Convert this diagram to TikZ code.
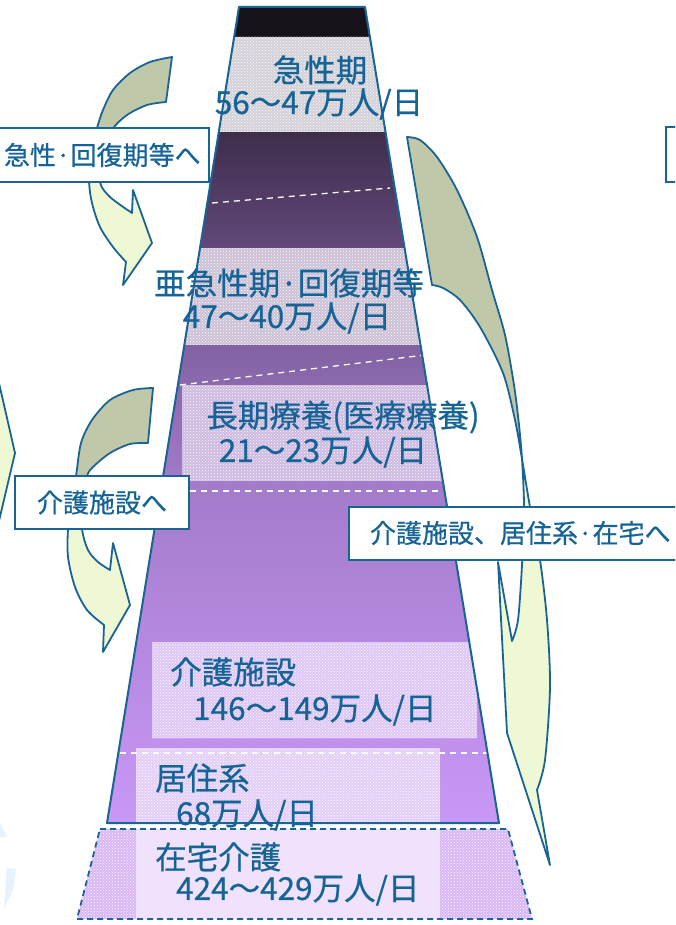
\documentclass[tikz,border=0pt]{standalone}
\usepackage{fontspec}
\setmainfont{Noto Sans CJK JP}[FakeBold=0.6]
\usetikzlibrary{patterns}
\definecolor{txt}{RGB}{22,100,150}
\definecolor{edge}{RGB}{26,100,148}
\definecolor{arrdark}{RGB}{192,200,170}
\definecolor{arrlight}{RGB}{238,248,212}
\definecolor{band0}{RGB}{22,18,26}
\definecolor{pat1}{RGB}{212,208,216}
\definecolor{dk1}{RGB}{62,46,76}
\definecolor{dk2}{RGB}{98,72,122}
\definecolor{pat2}{RGB}{204,192,214}
\definecolor{md1}{RGB}{130,98,162}
\definecolor{md2}{RGB}{164,124,204}
\definecolor{lt1}{RGB}{200,152,246}
\definecolor{pat3}{RGB}{206,186,226}
\definecolor{pat4}{RGB}{222,198,246}
\definecolor{pat5}{RGB}{226,206,248}
\definecolor{bot}{RGB}{216,182,248}
\definecolor{botin}{RGB}{240,226,252}
\definecolor{ghost}{RGB}{230,242,252}
\tikzset{
  lbl/.style={text=txt, font=\fontsize{31.5}{33}\selectfont, inner sep=0pt},
  boxlbl/.style={draw=edge, line width=2pt, fill=white, text=txt,
    font=\fontsize{26}{28}\selectfont, inner sep=0pt},
  arrline/.style={draw=edge, line width=1.8pt, line join=round},
  wdash/.style={draw=white, line width=1.3pt, dash pattern=on 6pt off 5pt},
  dots/.style={pattern=crosshatch dots, pattern color=white}
}
\begin{document}
\begin{tikzpicture}[x=1pt,y=-1pt]
\useasboundingbox (0,0) rectangle (675,925);
\clip (0,0) rectangle (675,925);

% ---------- pyramid ----------
\begin{scope}
\clip (239,7) -- (365,7) -- (499,823) -- (107,823) -- cycle;
\fill[band0] (0,7) rectangle (675,37);
\fill[pat1] (0,37) rectangle (675,133);
\fill[dots] (0,37) rectangle (675,133);
\shade[top color=dk1, bottom color=dk2] (0,133) rectangle (675,248);
\fill[pat2] (0,248) rectangle (675,345);
\fill[dots] (0,248) rectangle (675,345);
\shade[top color=md1, bottom color=md2] (0,345) rectangle (675,491);
\shade[top color=md2, bottom color=lt1] (0,491) rectangle (675,823);
\fill[pat3] (182,385) rectangle (675,481);
\fill[dots] (182,385) rectangle (675,481);
\fill[pat4] (152,642) rectangle (477,738);
\fill[dots] (152,642) rectangle (477,738);
\fill[pat5] (136,748) rectangle (440,823);
\fill[dots] (136,748) rectangle (440,823);
\draw[wdash] (212,203) -- (390,188);
\draw[wdash] (180,385) -- (425,355);
\draw[wdash] (190,491) -- (442,491);
\draw[wdash] (120,753) -- (495,753);
\end{scope}
\draw[edge, line width=2pt, line join=round] (239,7) -- (365,7) -- (499,823) -- (107,823) -- cycle;

% ---------- bottom trapezoid ----------
\fill[bot] (100,829) -- (508,829) -- (532,919) -- (77,919) -- cycle;
\fill[dots] (100,829) -- (508,829) -- (532,919) -- (77,919) -- cycle;
\fill[botin] (136,829) rectangle (440,919);
\draw[edge, line width=1.8pt, dash pattern=on 6pt off 4pt] (100,829) -- (508,829) -- (532,919) -- (77,919) -- cycle;

% ---------- labels in pyramid ----------
\node[lbl] (acute) at (320,70) {急性期};
\node[lbl] (acuteN) at (319,104) {56～47万人/日};
\node[lbl] (sub) at (289,283) {亜急性期·回復期等};
\node[lbl] (subN) at (287,318) {47～40万人/日};
\node[lbl] (long) at (343,417) {長期療養(医療療養)};
\node[lbl] (longN) at (323,452) {21～23万人/日};
\node[lbl, anchor=west] (care) at (170,672) {介護施設};
\node[lbl, anchor=west] (careN) at (193,710) {146～149万人/日};
\node[lbl, anchor=west] (res) at (155,778) {居住系};
\node[lbl, anchor=west] (resN) at (176,815) {68万人/日};
\node[lbl, anchor=west] (home) at (155,857) {在宅介護};
\node[lbl, anchor=west] (homeN) at (176,890) {424～429万人/日};

% ---------- arrow A ----------
\def\arrA{(172,57) -- (166,102)
  -- plot[smooth] coordinates {(166,102) (147,105) (127,115) (112,130) (103,155) (100,182) (110,197) (132,213)}
  -- (133,190) -- (152,243) -- (123,285) -- (126,262)
  -- plot[smooth] coordinates {(126,262) (113,247) (100,227) (92,203) (89,180) (91,150) (97,128) (103,110) (113,90) (130,73) (150,62) (172,57)} -- cycle}
\fill[arrlight] \arrA;
\begin{scope}\clip (0,0) rectangle (675,155); \fill[arrdark] \arrA; \end{scope}
\path[arrline] \arrA;

% ---------- arrow B ----------
\def\arrB{(153,388) -- (148,443)
  -- plot[smooth] coordinates {(148,443) (130,444) (110,453) (93,467) (87,476) (82,500) (82,529) (88,550) (98,562) (110,570)}
  -- (113,543) -- (130,605) -- (103,652) -- (104,625)
  -- plot[smooth] coordinates {(104,625) (87,610) (75,587) (68,557) (68,529) (71,500) (76,476) (81,443) (92,420) (110,400) (133,390) (153,388)} -- cycle}
\fill[arrlight] \arrB;
\begin{scope}\clip (0,0) rectangle (675,502); \fill[arrdark] \arrB; \end{scope}
\path[arrline] \arrB;

% ---------- arrow C (partial, left edge) ----------
\fill[arrlight] (-5,375) -- (0,387) -- (15,453) -- (0,517) -- (-5,530) -- cycle;
\draw[arrline] (-1,383) -- (15,453) -- (-1,521);

% ---------- arrow D (right) ----------
\fill[arrdark] (407,137)
  -- plot[smooth] coordinates {(407,137) (420,140) (437,157) (457,190) (477,237) (492,290) (505,335) (514,385) (519,425) (522,459)}
  -- plot[smooth] coordinates {(522,459) (515,420) (503,373) (480,327) (460,300) (443,288) (432,285)} -- cycle;
\fill[arrlight] (522,459)
  -- plot[smooth] coordinates {(522,459) (524,507) (522,565) (518,620) (512,641)}
  -- (498,562) -- (507,733) -- (550,865) -- (537,790)
  -- plot[smooth] coordinates {(537,790) (545,760) (550,687) (547,620) (540,560) (530,507) (522,459)} -- cycle;
\draw[arrline] (407,137)
  -- plot[smooth] coordinates {(407,137) (420,140) (437,157) (457,190) (477,237) (492,290) (505,335) (514,385) (519,425) (522,459) (524,507) (522,565) (518,620) (512,641)}
  -- (498,562) -- (507,733) -- (550,865) -- (537,790)
  -- plot[smooth] coordinates {(537,790) (545,760) (550,687) (547,620) (540,560) (530,507) (522,459) (515,420) (503,373) (480,327) (460,300) (443,288) (432,285)} -- cycle;

% ---------- ghost marks ----------
\fill[ghost] (0,823) -- (7,837) -- (0,837) -- cycle;
\fill[ghost] (7,868) -- (16,869) -- (13,890) -- (4,908) -- cycle;

% ---------- boxes ----------
\node[boxlbl, minimum height=54pt, text width=248pt, align=left, anchor=west] (boxA) at (-40,155) {\hspace*{43pt}急性·回復期等へ};
\node[boxlbl, minimum height=53pt, minimum width=174pt] (boxB) at (102,502.5) {介護施設へ};
\node[boxlbl, minimum height=53pt, text width=340pt, align=left, anchor=west] (boxC) at (348,533) {\hspace*{21pt}介護施設、居住系·在宅へ};
\draw[edge, line width=2pt, fill=white] (666,127) rectangle (700,182);
\coordinate (boxD) at (666,155);
\end{tikzpicture}
\end{document}
